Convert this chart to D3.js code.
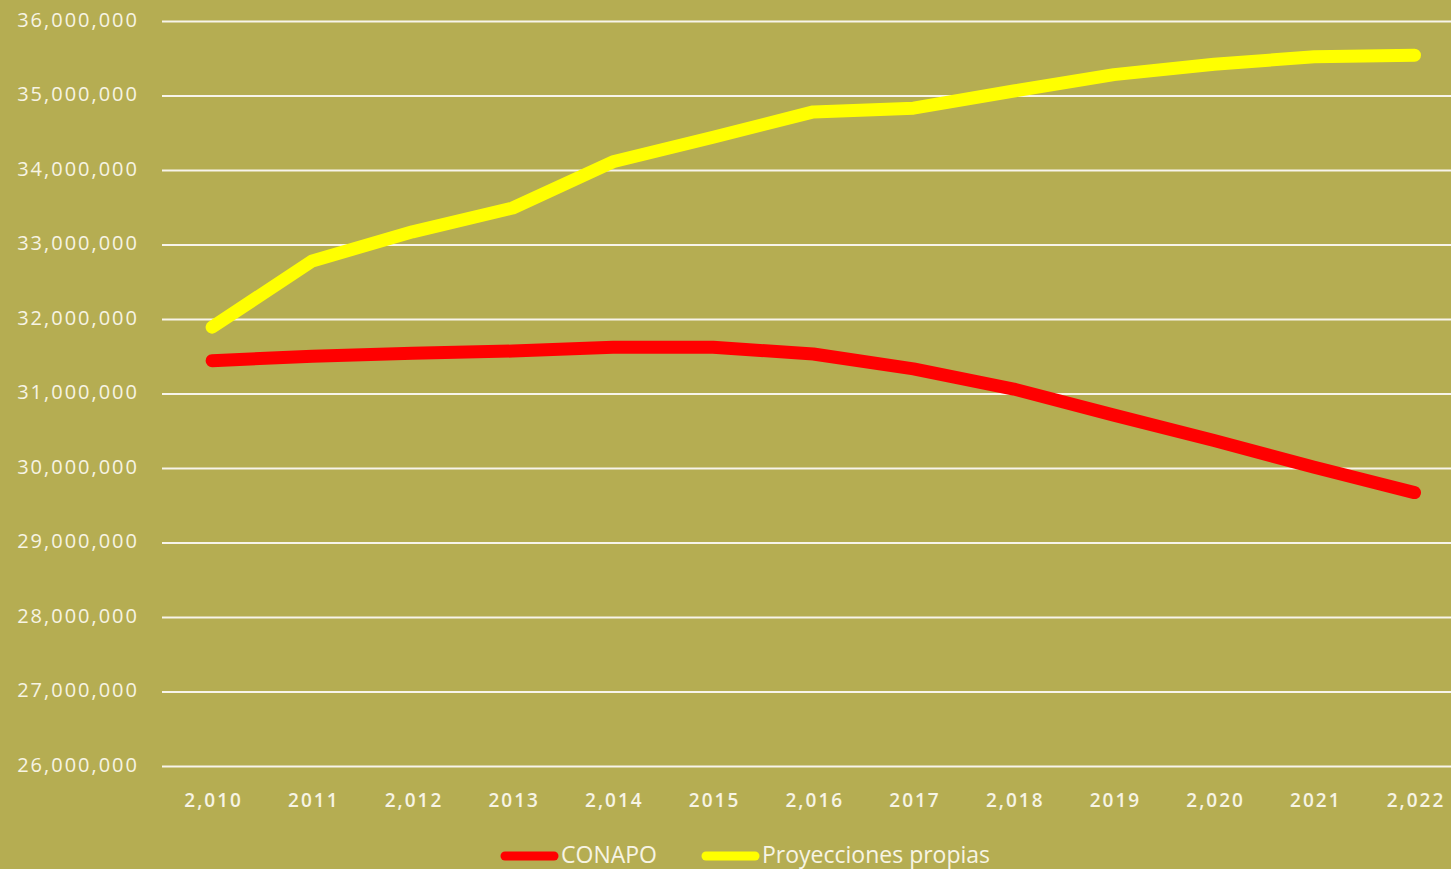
<!DOCTYPE html>
<html>
<head>
<meta charset="utf-8">
<script src="https://cdn.jsdelivr.net/npm/d3@7"></script>
<style>
  html, body { margin: 0; padding: 0; background: #b5ad52; overflow: hidden; }
  svg { display: block; }
  .axisLabel text { fill: #f7f4e4; font-family: "Open Sans", "DejaVu Sans", sans-serif; }
  .axisLabel .domain, .axisLabel line { display: none; }
  .grid line { stroke: #f7f4ea; stroke-width: 2; }
  .grid .domain { display: none; }
</style>
</head>
<body>
<svg id="chart"></svg>
<script>
// categories and tick labels as shown on the chart
const years = [2010, 2011, 2012, 2013, 2014, 2015, 2016, 2017, 2018, 2019, 2020, 2021, 2022]
const yearLabels = ['2,010', '2011', '2,012', '2013', '2,014', '2015', '2,016', '2017', '2,018', '2019', '2,020', '2021', '2,022']
const yTicks = [26e6, 27e6, 28e6, 29e6, 30e6, 31e6, 32e6, 33e6, 34e6, 35e6, 36e6]

// series values
const conapo = [31440000, 31500000, 31540000, 31570000, 31620000, 31620000, 31530000, 31330000, 31060000, 30710000, 30370000, 30010000, 29670000]
const propias = [31890000, 32780000, 33170000, 33490000, 34110000, 34440000, 34780000, 34830000, 35060000, 35280000, 35420000, 35520000, 35540000]

const seriesNames = ['CONAPO', 'Proyecciones propias']
const seriesColors = ['#ff0000', '#ffff00']

const width = 1451
const height = 869
const margin = { top: 21, left: 162, bottom: 103 }
const step = 100.2

const svg = d3.select('#chart').attr('width', width).attr('height', height)

svg.append('rect').attr('width', width).attr('height', height).attr('fill', '#b5ad52')

const x = d3.scalePoint()
  .domain(years)
  .range([margin.left + step / 2, margin.left + step * (years.length - 0.5)])

const y = d3.scaleLinear()
  .domain([26e6, 36e6])
  .range([height - margin.bottom, margin.top])

// horizontal grid lines
svg.append('g')
  .attr('class', 'grid')
  .attr('transform', `translate(${margin.left},0)`)
  .call(d3.axisLeft(y).tickValues(yTicks).tickSize(-(width - margin.left)).tickFormat(''))

// y axis labels
svg.append('g')
  .attr('class', 'axisLabel leftAxis')
  .attr('transform', 'translate(139,0)')
  .call(d3.axisLeft(y).tickValues(yTicks).tickSize(0).tickPadding(0).tickFormat(d3.format(',')))
  .selectAll('text')
  .attr('font-size', 20)
  .attr('letter-spacing', 2)
  .attr('dy', '0.25em')

// x axis labels
svg.append('g')
  .attr('class', 'axisLabel bottomAxis')
  .attr('transform', `translate(1,${height - margin.bottom})`)
  .call(d3.axisBottom(x).tickSize(0).tickPadding(28).tickFormat((d, i) => yearLabels[i]))
  .selectAll('text')
  .attr('font-size', 19)
  .attr('font-weight', 600)
  .attr('letter-spacing', 2)

const line = d3.line()
  .x((d, i) => x(years[i]))
  .y(d => y(d))

const seriesData = [conapo, propias]

svg.selectAll('.series')
  .data(seriesData)
  .join('path')
  .attr('class', 'series')
  .attr('d', line)
  .attr('fill', 'none')
  .attr('stroke', (d, i) => seriesColors[i])
  .attr('stroke-width', 13)
  .attr('stroke-linecap', 'round')
  .attr('stroke-linejoin', 'round')

// legend
const legendX = [505, 706]
const legend = svg.selectAll('.legendItem')
  .data(seriesNames)
  .join('g')
  .attr('class', 'legendItem')
  .attr('transform', (d, i) => `translate(${legendX[i]},856)`)

legend.append('line')
  .attr('x1', 0).attr('x2', 49)
  .attr('stroke', (d, i) => seriesColors[i])
  .attr('stroke-width', 9)
  .attr('stroke-linecap', 'round')

legend.append('text')
  .attr('x', 56)
  .attr('dy', '0.3em')
  .attr('fill', '#f7f4e4')
  .attr('font-family', '"Liberation Sans Narrow", "Open Sans", sans-serif')
  .attr('font-size', 23)
  .text(d => d)
</script>
</body>
</html>
